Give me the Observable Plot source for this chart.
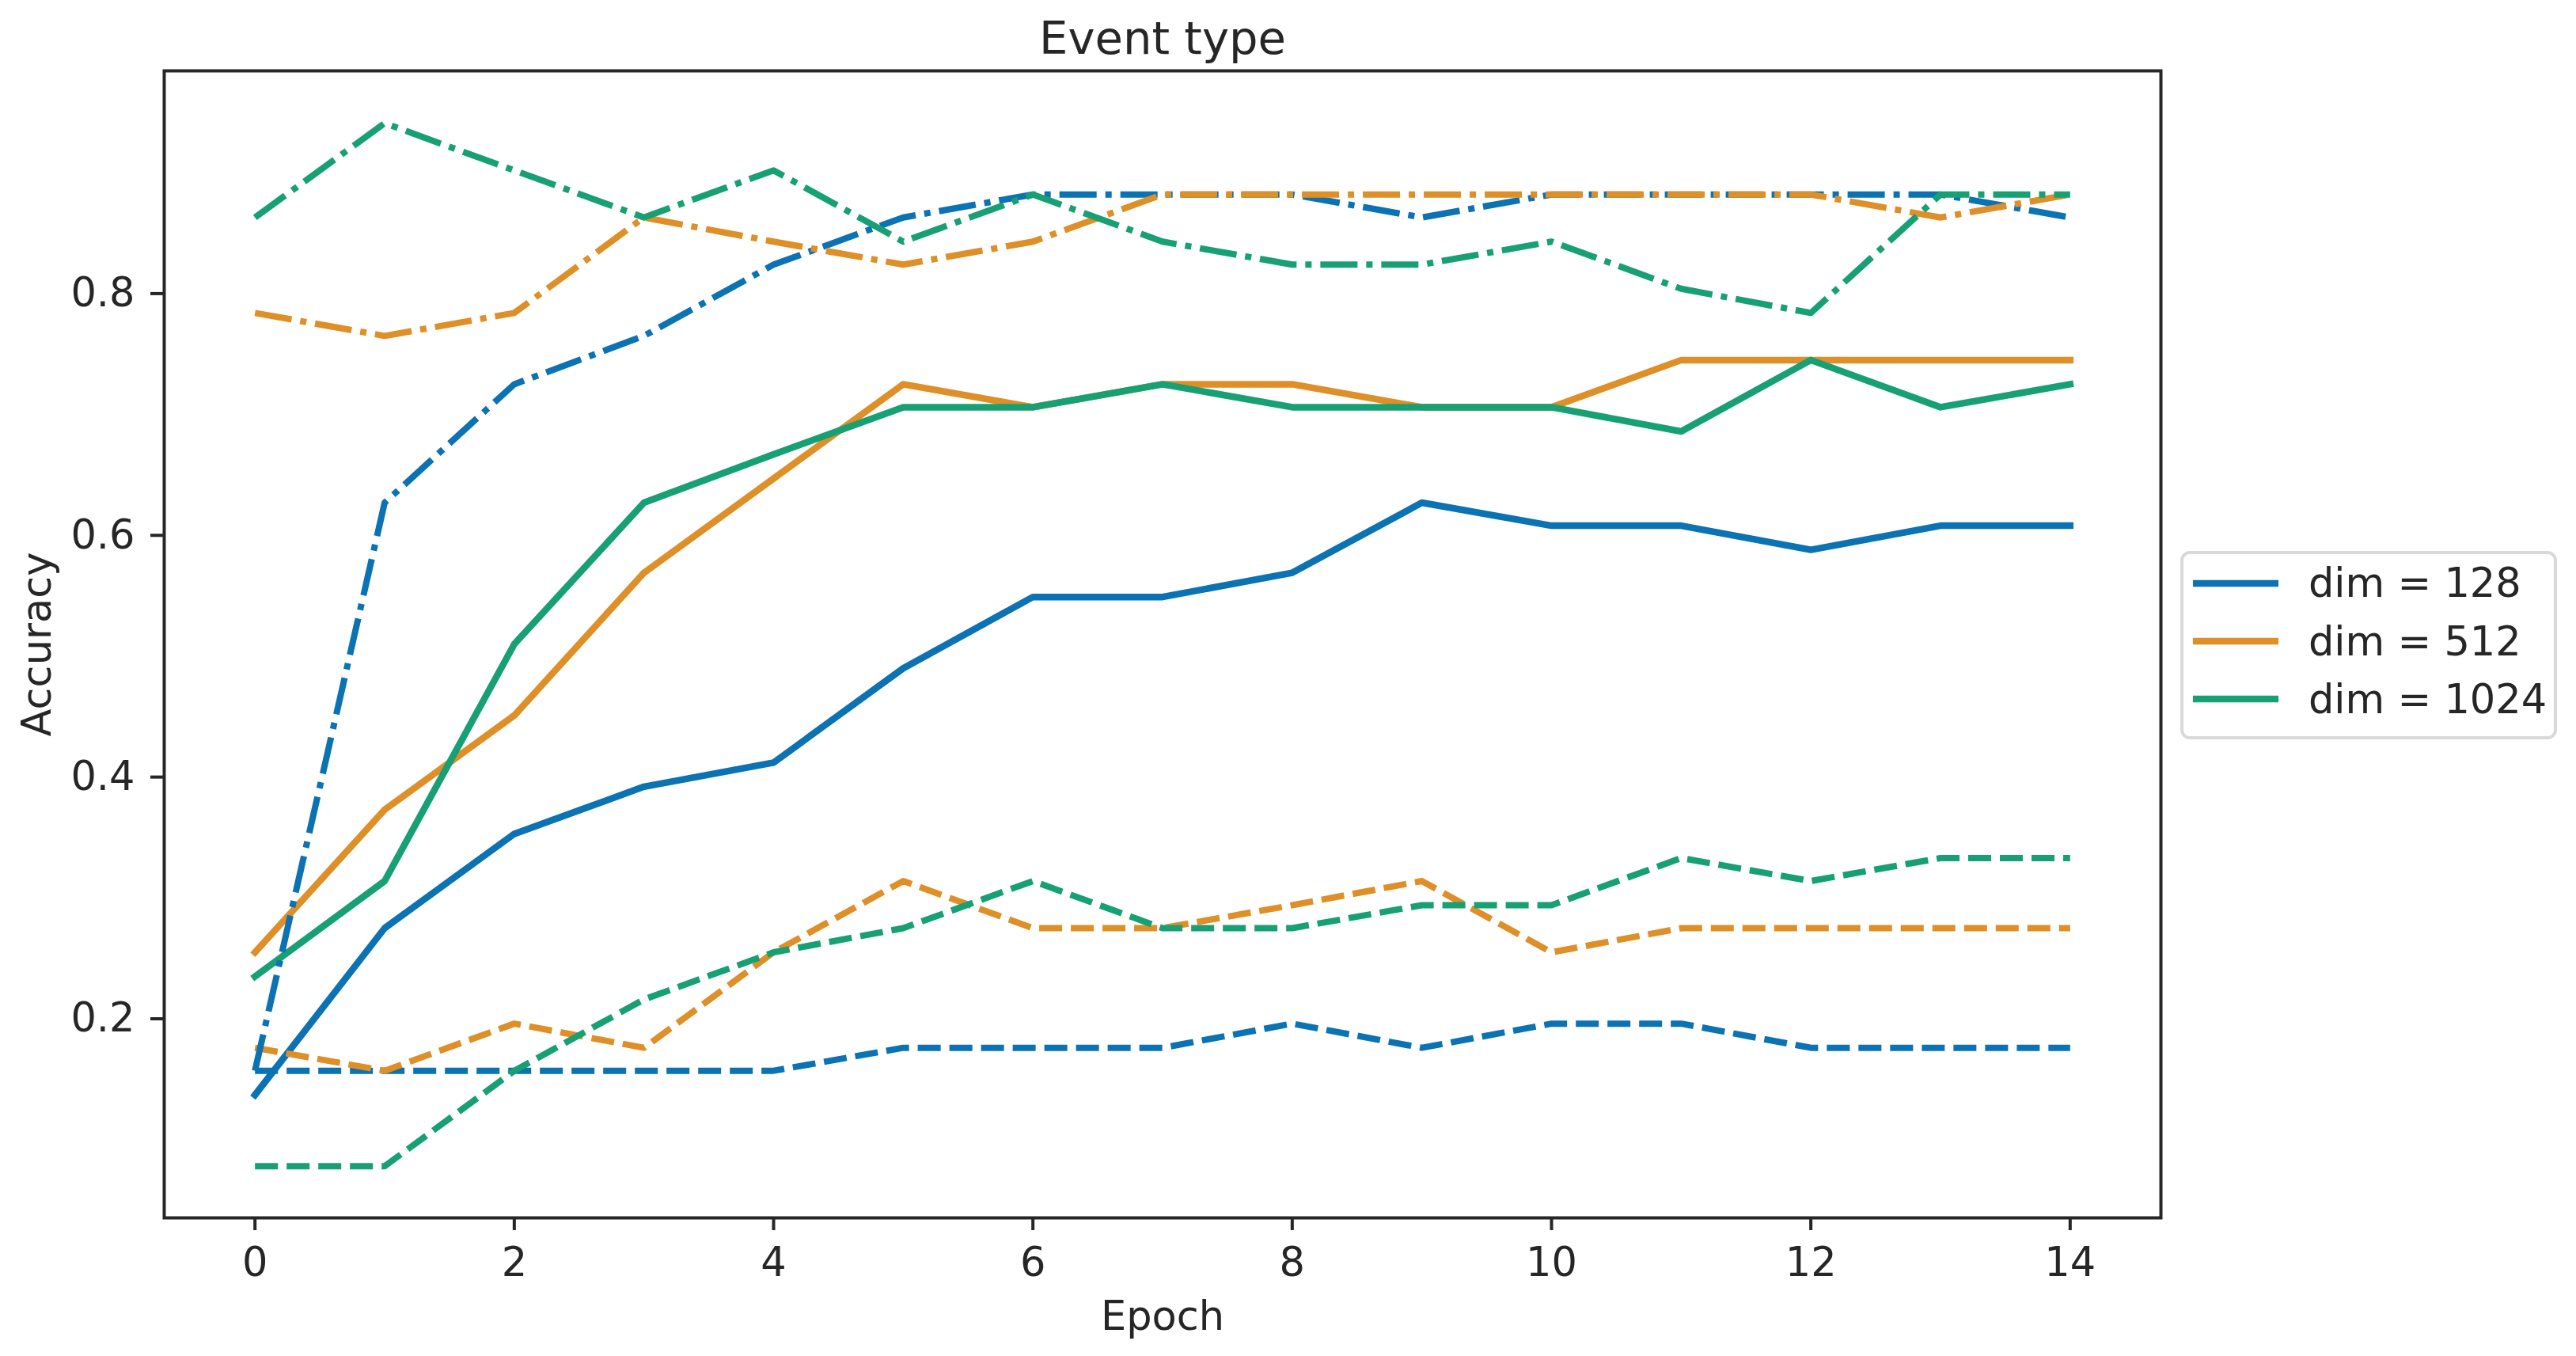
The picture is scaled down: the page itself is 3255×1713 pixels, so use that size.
<!DOCTYPE html>
<html>
<head>
<meta charset="utf-8">
<script src="https://cdn.jsdelivr.net/npm/d3@7"></script>
<script src="https://cdn.jsdelivr.net/npm/@observablehq/plot@0.6"></script>
<style>
html, body { margin: 0; padding: 0; background: #fff; }
#wrap { position: relative; width: 3255px; height: 1713px; font-family: "DejaVu Sans", sans-serif; }
#legend { position: absolute; left: 2755px; top: 696px; }
</style>
</head>
<body>
<div id="wrap"></div>
<script>
// ---- data ----
const epochs = [0, 1, 2, 3, 4, 5, 6, 7, 8, 9, 10, 11, 12, 13, 14];
const dims = ["dim = 128", "dim = 512", "dim = 1024"];
const colors = ["#0b72b3", "#df8f27", "#17a074"];
const xTicks = [0, 2, 4, 6, 8, 10, 12, 14];
const yTicks = [0.2, 0.4, 0.6, 0.8];

const solid128   = [0.137, 0.275, 0.353, 0.392, 0.412, 0.490, 0.549, 0.549, 0.569, 0.627, 0.608, 0.608, 0.588, 0.608, 0.608];
const solid512   = [0.255, 0.373, 0.451, 0.569, 0.647, 0.725, 0.706, 0.725, 0.725, 0.706, 0.706, 0.745, 0.745, 0.745, 0.745];
const solid1024  = [0.235, 0.314, 0.510, 0.627, 0.667, 0.706, 0.706, 0.725, 0.706, 0.706, 0.706, 0.686, 0.745, 0.706, 0.725];

const dashed128  = [0.157, 0.157, 0.157, 0.157, 0.157, 0.176, 0.176, 0.176, 0.196, 0.176, 0.196, 0.196, 0.176, 0.176, 0.176];
const dashed512  = [0.176, 0.157, 0.196, 0.176, 0.255, 0.314, 0.275, 0.275, 0.294, 0.314, 0.255, 0.275, 0.275, 0.275, 0.275];
const dashed1024 = [0.078, 0.078, 0.157, 0.216, 0.255, 0.275, 0.314, 0.275, 0.275, 0.294, 0.294, 0.333, 0.314, 0.333, 0.333];

const dashdot128  = [0.157, 0.627, 0.725, 0.765, 0.824, 0.863, 0.882, 0.882, 0.882, 0.863, 0.882, 0.882, 0.882, 0.882, 0.863];
const dashdot512  = [0.784, 0.765, 0.784, 0.863, 0.843, 0.824, 0.843, 0.882, 0.882, 0.882, 0.882, 0.882, 0.882, 0.863, 0.882];
const dashdot1024 = [0.863, 0.941, 0.902, 0.863, 0.902, 0.843, 0.882, 0.843, 0.824, 0.824, 0.843, 0.804, 0.784, 0.882, 0.882];

// ---- build tables ----
function rows(seriesList) {
  const out = [];
  seriesList.forEach((vals, i) => {
    vals.forEach((v, j) => out.push({epoch: epochs[j], acc: v, dim: dims[i]}));
  });
  return out;
}
const solidRows = rows([solid128, solid512, solid1024]);
const dashedRows = rows([dashed128, dashed512, dashed1024]);
const dashdotRows = rows([dashdot128, dashdot512, dashdot1024]);

const lwSolid = 8.5;
const lwDash = 8;
const ink = "#262626";

const chart = Plot.plot({
  width: 3255,
  height: 1713,
  marginLeft: 207,
  marginRight: 525,
  marginTop: 89,
  marginBottom: 175,
  x: {domain: [-0.7, 14.7]},
  y: {domain: [0.0353, 0.9843]},
  color: {domain: dims, range: colors},
  style: {fontFamily: "DejaVu Sans", fontSize: "51px", color: ink, background: "white"},
  marks: [
    Plot.line(solidRows, {x: "epoch", y: "acc", z: "dim", stroke: "dim", strokeWidth: lwSolid, strokeLinejoin: "round", strokeLinecap: "square"}),
    Plot.line(dashedRows, {x: "epoch", y: "acc", z: "dim", stroke: "dim", strokeWidth: lwDash, strokeLinejoin: "round", strokeLinecap: "butt",
      strokeDasharray: "29,11"}),
    Plot.line(dashdotRows, {x: "epoch", y: "acc", z: "dim", stroke: "dim", strokeWidth: lwDash, strokeLinejoin: "round", strokeLinecap: "butt",
      strokeDasharray: "47,11,8,11"}),
    Plot.frame({stroke: ink, strokeWidth: 4}),
    Plot.axisX({ticks: xTicks, tickSize: 16, tickPadding: 21, label: null, stroke: ink, strokeWidth: 4, fontSize: 51}),
    Plot.axisY({ticks: yTicks, tickFormat: d3.format(".1f"), tickSize: 17, tickPadding: 20, label: null, stroke: ink, strokeWidth: 4, fontSize: 51}),
    Plot.text(["Event type"], {text: d => d, frameAnchor: "top", textAnchor: "middle", lineAnchor: "bottom", dy: -22, fontSize: 57.6, fill: ink}),
    Plot.text(["Epoch"], {text: d => d, frameAnchor: "bottom", textAnchor: "middle", lineAnchor: "top", dy: 105, fontSize: 51, fill: ink}),
    Plot.text(["Accuracy"], {text: d => d, frameAnchor: "left", textAnchor: "middle", lineAnchor: "bottom", rotate: -90, dx: -144, fontSize: 51, fill: ink})
  ]
});

const wrap = document.getElementById("wrap");
wrap.appendChild(chart);

// ---- legend ----
const lg = d3.select(wrap).append("svg")
  .attr("id", "legend")
  .attr("width", 476)
  .attr("height", 238);
lg.append("rect")
  .attr("x", 2).attr("y", 2).attr("width", 472).attr("height", 234)
  .attr("rx", 10).attr("ry", 10)
  .attr("fill", "white").attr("stroke", "#d9d9d9").attr("stroke-width", 4);
dims.forEach((d, i) => {
  const cy = 41 + i * 73;
  lg.append("line")
    .attr("x1", 16).attr("x2", 124).attr("y1", cy).attr("y2", cy)
    .attr("stroke", colors[i]).attr("stroke-width", 8.5);
  lg.append("text")
    .attr("x", 162).attr("y", 58 + i * 73.5)
    .attr("font-family", "DejaVu Sans").attr("font-size", 51)
    .attr("fill", ink)
    .text(d);
});
</script>
</body>
</html>
